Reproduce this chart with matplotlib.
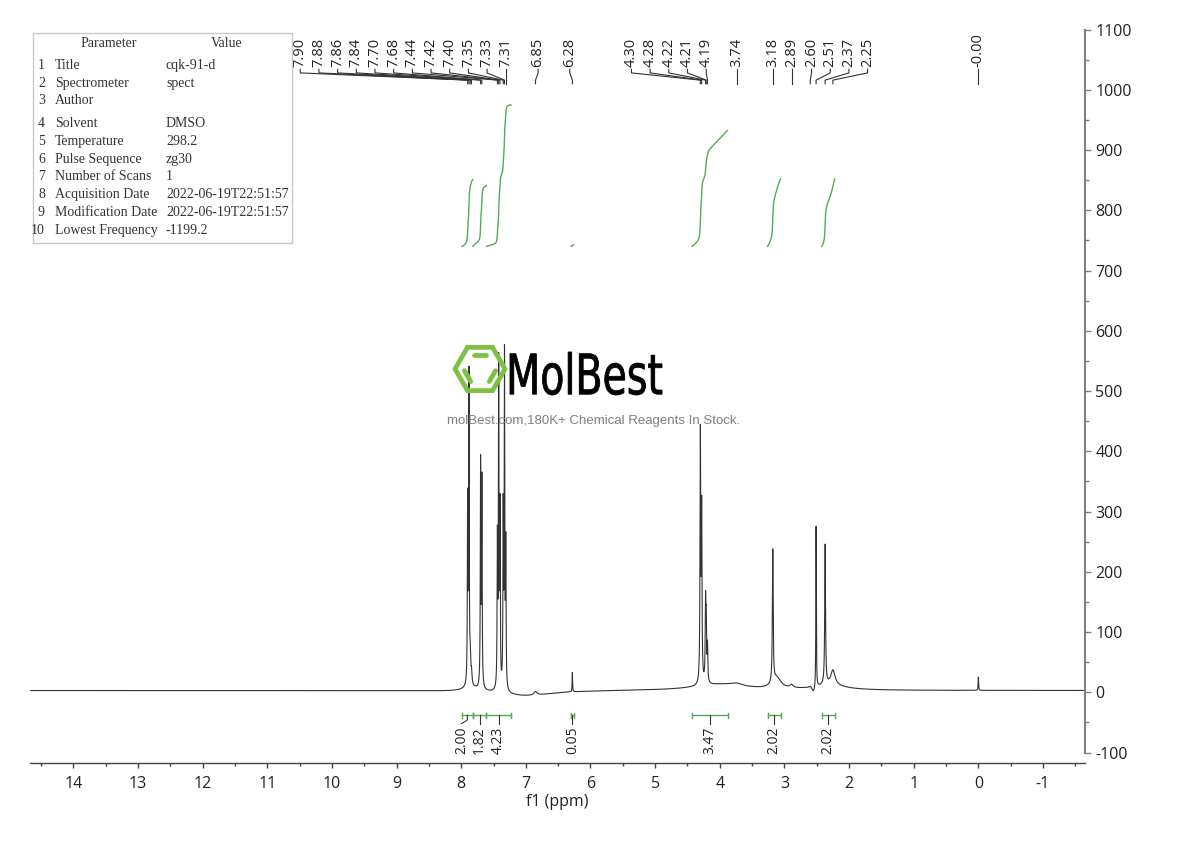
import numpy as np
import matplotlib.pyplot as plt
from matplotlib.patches import RegularPolygon, Rectangle, PathPatch
from matplotlib.textpath import TextPath
from matplotlib.font_manager import FontProperties
from matplotlib.transforms import Affine2D
from matplotlib.ticker import MultipleLocator

plt.rcParams['axes.unicode_minus'] = False
plt.rcParams['font.family'] = ['Open Sans', 'DejaVu Sans']

### peak list: position (ppm), height, half width (ppm)
peak_ppm = [7.90, 7.88, 7.86, 7.84, 7.70, 7.68, 7.44, 7.42, 7.40, 7.35, 7.33, 7.31,
            6.85, 6.28, 4.30, 4.28, 4.22, 4.21, 4.19, 3.74, 3.18, 2.89, 2.60, 2.51,
            2.37, 2.25, 0.00]
peak_height = [300, 510, 40, 20, 370, 340, 240, 530, 290, 290, 545, 230,
               6, 32, 410, 280, 125, 90, 60, 4, 220, 5, 3, 268,
               232, 25, 22]
peak_width = [0.005, 0.005, 0.008, 0.008, 0.005, 0.005, 0.005, 0.005, 0.005, 0.005, 0.005, 0.005,
              0.03, 0.004, 0.006, 0.006, 0.006, 0.006, 0.006, 0.1, 0.007, 0.03, 0.02, 0.004,
              0.007, 0.04, 0.004]
peak_labels = ['7.90', '7.88', '7.86', '7.84', '7.70', '7.68', '7.44', '7.42', '7.40',
               '7.35', '7.33', '7.31', '6.85', '6.28', '4.30', '4.28', '4.22', '4.21',
               '4.19', '3.74', '3.18', '2.89', '2.60', '2.51', '2.37', '2.25', '-0.00']

### broad baseline features (roll / humps under the sharp lines)
baseline_offset = 3.0
broad_ppm = [7.0, 4.0, 3.12, 2.55, 2.3, 7.85]
broad_height = [-9, 10, 18, -10, 8, 6]
broad_width = [0.5, 0.5, 0.08, 0.03, 0.3, 0.15]

### integrals: region limits (ppm) and values
int_from = [7.99, 7.82, 7.61, 6.30, 4.43, 3.26, 2.42]
int_to = [7.82, 7.61, 7.23, 6.26, 3.88, 3.06, 2.22]
int_value = [2.00, 1.82, 4.23, 0.05, 3.47, 2.02, 2.02]
int_base = 740      # curves start at this height
int_scale = 55.5    # curve rise per unit of integral

### parameter table
param_names = ['Title', 'Spectrometer', 'Author', 'Solvent', 'Temperature', 'Pulse Sequence',
               'Number of Scans', 'Acquisition Date', 'Modification Date', 'Lowest Frequency']
param_values = ['cqk-91-d', 'spect', '', 'DMSO', '298.2', 'zg30', '1',
                '2022-06-19T22:51:57', '2022-06-19T22:51:57', '-1199.2']

### build the spectrum
ppm = np.linspace(14.67, -1.65, 80000)
spec = np.full_like(ppm, baseline_offset)
for p, h, w in zip(peak_ppm + broad_ppm, peak_height + broad_height, peak_width + broad_width):
    spec += h / (1 + ((ppm - p) / w) ** 2)

W, H = 1190, 841
fig = plt.figure(figsize=(W / 100, H / 100), dpi=100)
ax = fig.add_axes([30 / W, 1 - 763 / H, (1085 - 30) / W, (763 - 10) / H])
ax.set_xlim(14.67, -1.65)
ax.set_ylim(-117.3, 1132.4)

ax.plot(ppm, spec, color='#333333', lw=0.8)

### integral curves and brackets
green = '#55aa55'
for a, b, v in zip(int_from, int_to, int_value):
    m = (ppm <= a) & (ppm >= b)
    cum = np.cumsum(spec[m])
    ax.plot(ppm[m], int_base + cum / cum[-1] * v * int_scale, color=green, lw=1)
    ax.plot([a, b], [-38, -38], color=green, lw=1)
    ax.plot([a, a], [-34, -42], color=green, lw=1)
    ax.plot([b, b], [-34, -42], color=green, lw=1)

### integral labels, pushed apart from right to left
centers = [(a + b) / 2 for a, b in zip(int_from, int_to)]
int_label_x = list(centers)
for i in range(len(centers) - 2, -1, -1):
    int_label_x[i] = max(centers[i], int_label_x[i + 1] + 0.28)
for c, lx, v in zip(centers, int_label_x, int_value):
    ax.plot([c, c, lx], [-38, -46, -52], color='#333333', lw=0.8)
    ax.text(lx, -57, '%.2f' % v, rotation=90, ha='center', va='top', fontsize=10, color='#222222')

### peak labels
gap = 0.289
label_x = [7.31 + gap * (11 - i) for i in range(12)]
label_x += [6.81, 6.32]
label_x += [4.21 + gap * (4 - i) for i in range(5)]
label_x += [3.74, 3.18, 2.89]
label_x += [2.58 - gap * i for i in range(4)]
label_x += [0.0]
for p, lx, s in zip(peak_ppm, label_x, peak_labels):
    ax.plot([lx, lx, p, p], [1034, 1028, 1016, 1010], color='#333333', lw=0.8)
    ax.text(lx, 1038, s, rotation=90, ha='center', va='bottom', fontsize=10.5, color='#222222')

### axes styling
for s in ['top', 'left']:
    ax.spines[s].set_visible(False)
ax.spines['right'].set_bounds(-100, 1100)
ax.spines['right'].set_color('#808080')
ax.spines['right'].set_linewidth(1.5)
ax.spines['bottom'].set_color('#444444')
ax.spines['bottom'].set_linewidth(1.0)
ax.yaxis.tick_right()
ax.set_yticks(range(-100, 1101, 100))
ax.yaxis.set_minor_locator(MultipleLocator(50))
ax.set_xticks(range(14, -2, -1))
ax.xaxis.set_minor_locator(MultipleLocator(0.5))
ax.tick_params(axis='y', which='major', length=4.5, width=1, color='#808080', labelsize=11.5,
               labelcolor='#222222', pad=3)
ax.tick_params(axis='y', which='minor', length=3, width=1, color='#808080')
ax.tick_params(axis='x', which='major', length=3.6, width=1, color='#444444', labelsize=11.5,
               labelcolor='#222222', pad=6)
ax.tick_params(axis='x', which='minor', length=2, width=1, color='#444444')
ax.set_xlabel('f1 (ppm)', fontsize=11.5, color='#222222', labelpad=1)

### overlay in pixel coordinates for the table and watermark
ov = fig.add_axes([0, 0, 1, 1], zorder=5)
ov.set_xlim(0, W)
ov.set_ylim(H, 0)
ov.axis('off')
ov.patch.set_alpha(0)

ov.add_patch(Rectangle((33.3, 32.7), 259, 210.3, facecolor='white', edgecolor='#c8c8c8', lw=1))
tfont = dict(family='Liberation Serif', fontsize=10, color='#333333', va='center')
ov.text(109, 43.3, 'Parameter', ha='center', **tfont)
ov.text(226.7, 43.3, 'Value', ha='center', **tfont)
row_y = [65, 83.3, 100.7, 123.3, 141, 159, 176.7, 194.3, 212.3, 230.7]
for i, (n, v) in enumerate(zip(param_names, param_values)):
    ov.text(45, row_y[i], str(i + 1), ha='right', **tfont)
    ov.text(55, row_y[i], n, ha='left', **tfont)
    ov.text(166, row_y[i], v, ha='left', **tfont)

### MolBest watermark
logo_green = '#7cc142'
cx, cy, r = 480, 369, 25
ov.add_patch(RegularPolygon((cx, cy), 6, radius=r, orientation=np.pi / 6, fill=False,
                            edgecolor=logo_green, lw=3.4))
ang = np.radians([180, 120, 60, 0, -60, -120])
ri = r * 0.66
vx = cx + ri * np.cos(ang)
vy = cy - ri * np.sin(ang)
for k in [1, 3, 5]:
    x0, y0, x1, y1 = vx[k], vy[k], vx[(k + 1) % 6], vy[(k + 1) % 6]
    ov.plot([x0 + 0.12 * (x1 - x0), x0 + 0.88 * (x1 - x0)],
            [y0 + 0.12 * (y1 - y0), y0 + 0.88 * (y1 - y0)],
            color=logo_green, lw=3.4, solid_capstyle='round')

tp = TextPath((0, 0), 'MolBest', size=1, prop=FontProperties(family='DejaVu Sans'))
ext = tp.get_extents()
sx = (662 - 510) / ext.width
sy = (395 - 352) / ext.height
tr = Affine2D().translate(-ext.x0, -ext.y0).scale(sx, -sy).translate(510, 395)
ov.add_patch(PathPatch(tr.transform_path(tp), facecolor='black', edgecolor='black', lw=0.6))
ov.text(594, 421, 'molBest.com,180K+ Chemical Reagents In Stock.', ha='center', va='center',
        family='Liberation Sans', fontsize=9.5, color='#7f7f7f')

fig.savefig('out.png', dpi=100)
